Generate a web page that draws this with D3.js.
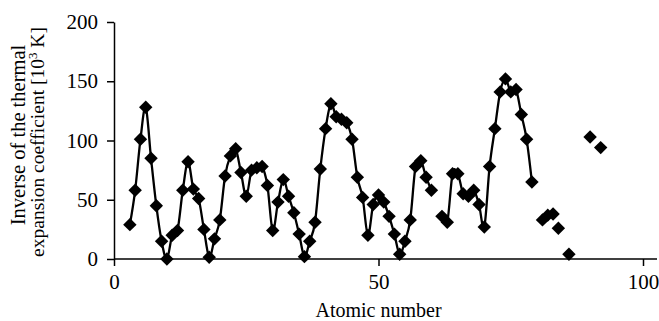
<!DOCTYPE html>
<html>
<head>
<meta charset="utf-8">
<script src="https://cdn.jsdelivr.net/npm/d3@7"></script>
<style>
  body { margin: 0; background: #fff; }
  svg { display: block; }
  text { font-family: "Liberation Serif", "Times New Roman", serif; fill: #000; }
</style>
</head>
<body>
<div id="chart"></div>
<script>
// atomic numbers and inverse thermal expansion coefficient [10^3 K]
// segments are the runs joined by a smoothed line, loose points are markers only
const seg1Z = [3,4,5,6,7,8,9,10,11,12,13,14,15,16,17,18,19,20,21,22,23,24,25,26,27,28,29,30,31,32,33,34,35,36,37,38,39,40,41,42,43,44,45,46,47,48,49,50,51,52,53,54,55,56,57,58,59,60];
const seg1V = [29,58,101,128,85,45,15,0,20,24,58,82,59,51,25,1.5,17,33,70,87,93,73,53,75,77,78,62,24,48,67,53,39,21,2,15,31,76,110,131,120,118,115,101,69,52,20,46,54,48,36,21,4,15,33,78,83,69,58];
const seg2Z = [62,63,64,65,66,67,68,69,70,71,72,73,74,75,76,77,78,79];
const seg2V = [36,31,72,72,55,53,58,46,27,78,110,141,152,141,143,122,101,65];
const looseZ = [81,82,83,84,86,90,92];
const looseV = [33,37,38,26,4,103,94];

const xTicks = [0, 50, 100];
const yTicks = [0, 50, 100, 150, 200];
const xTitle = "Atomic number";
const yTitle1 = "Inverse of the thermal";
const yTitle2 = "expansion coefficient [10";
const yTitleSup = "3";
const yTitle3 = " K]";

const W = 659, H = 321;
const m = { left: 114, top: 22, right: 16, bottom: 62 };

const svg = d3.select("#chart").append("svg")
  .attr("width", W).attr("height", H);

const x = d3.scaleLinear().domain([0, 100]).range([m.left, 643]);
const y = d3.scaleLinear().domain([0, 200]).range([259, 22]);

// x axis
const xAxis = svg.append("g")
  .attr("transform", "translate(0," + y(0) + ")")
  .call(d3.axisBottom(x).tickValues(xTicks).tickSize(7).tickPadding(8).tickSizeOuter(0));
xAxis.select(".domain").attr("d", "M" + x(0) + ",0H" + (W - 2)).attr("stroke-width", 1.5);
xAxis.selectAll(".tick line").attr("stroke-width", 1.5);
xAxis.selectAll("text").style("font-size", "21px").attr("dy", "0.71em");

// y axis
const yAxis = svg.append("g")
  .attr("transform", "translate(" + x(0) + ",0)")
  .call(d3.axisLeft(y).tickValues(yTicks).tickSize(7).tickPadding(9).tickSizeOuter(0));
yAxis.select(".domain").attr("stroke-width", 1.5);
yAxis.selectAll(".tick line").attr("stroke-width", 1.5);
yAxis.selectAll("text").style("font-size", "21px");

// titles
svg.append("text")
  .attr("x", x(50)).attr("y", 317)
  .attr("text-anchor", "middle")
  .style("font-size", "20px")
  .text(xTitle);

const yt = svg.append("g").attr("transform", "translate(25,135) rotate(-90)");
yt.append("text").attr("x", 0).attr("y", 0)
  .attr("text-anchor", "middle").style("font-size", "20.5px")
  .text(yTitle1);
const t2 = yt.append("text").attr("x", -7).attr("y", 19)
  .attr("text-anchor", "middle").style("font-size", "19.5px");
t2.append("tspan").text(yTitle2);
t2.append("tspan").attr("dy", -7).style("font-size", "13px").text(yTitleSup);
t2.append("tspan").attr("dy", 7).text(yTitle3);

// smoothed lines
const line = d3.line()
  .x(d => x(d[0])).y(d => y(d[1]))
  .curve(d3.curveCardinal.tension(0));

[[seg1Z, seg1V], [seg2Z, seg2V]].forEach(s => {
  svg.append("path")
    .datum(d3.zip(s[0], s[1]))
    .attr("d", line)
    .attr("fill", "none")
    .attr("stroke", "#000")
    .attr("stroke-width", 2.3);
});

// diamond markers
const pts = d3.zip(seg1Z.concat(seg2Z, looseZ), seg1V.concat(seg2V, looseV));
svg.append("g").selectAll("path")
  .data(pts)
  .enter().append("path")
  .attr("d", d3.symbol().type(d3.symbolSquare).size(90))
  .attr("transform", d => "translate(" + x(d[0]) + "," + y(d[1]) + ") rotate(45)")
  .attr("fill", "#000");
</script>
</body>
</html>
